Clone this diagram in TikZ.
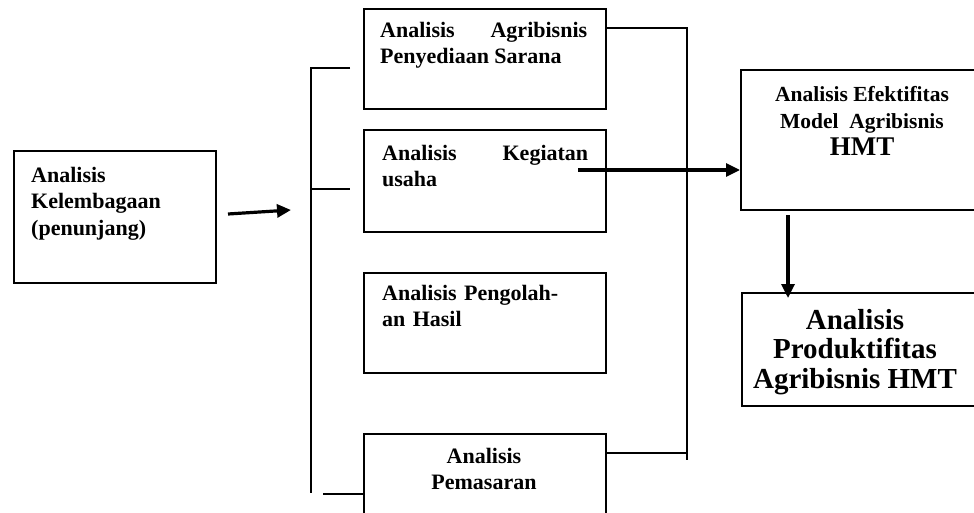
\documentclass[tikz,border=0pt]{standalone}
\usepackage{fontspec}
\setmainfont{Liberation Serif}
\usetikzlibrary{arrows.meta}
\hyphenpenalty=10000
\exhyphenpenalty=10000
\tikzset{
  frame/.style={draw=black, line width=1.6pt, inner sep=0pt, anchor=north west},
  lbl/.style={anchor=north west, inner sep=0pt, font=\fontsize{22}{26.5}\selectfont\bfseries},
  brk/.style={line width=1.6pt},
  bigarrow/.style={line width=3.2pt, -{Triangle[length=14pt,width=13pt]}}
}
\begin{document}
\begin{tikzpicture}[x=1pt,y=-1pt]
\useasboundingbox (0,0) rectangle (974,513);
% boxes
\node[frame, minimum width=202pt, minimum height=132pt] (L) at (13,150) {};
\node[frame, minimum width=242pt, minimum height=100pt] (B1) at (363,8) {};
\node[frame, minimum width=242pt, minimum height=102pt] (B2) at (363,129) {};
\node[frame, minimum width=242pt, minimum height=100pt] (B3) at (363,272) {};
\node[frame, minimum width=242pt, minimum height=100pt] (B4) at (363,433) {};
\node[frame, minimum width=240pt, minimum height=140pt] (E) at (740,69) {};
\node[frame, minimum width=240pt, minimum height=113pt] (P) at (741,292) {};
% texts
\node[lbl, text width=180pt, align=left] (tL) at (31,167) {Analisis\\Kelembagaan\\(penunjang)};
\node[lbl, text width=207pt, align=justify] (t1) at (380,22) {Analisis Agribisnis\linebreak Penyediaan Sarana};
\node[lbl, text width=206pt, align=justify] (t2) at (382,145) {Analisis Kegiatan\linebreak usaha};
\node[lbl, text width=206pt, align=left] (t3) at (382,285) {Analisis Pengolah-\\an Hasil};
\node[lbl, anchor=north, align=center] (t4) at (484,448) {Analisis\\Pemasaran};
\node[lbl, anchor=north, align=center, font=\fontsize{21.5}{27}\selectfont\bfseries] (tE) at (862,86) {Analisis Efektifitas\\Model\ \ Agribisnis\\{\fontsize{27}{28}\selectfont HMT}};
\node[lbl, anchor=north, align=center, font=\fontsize{29}{29.5}\selectfont\bfseries] (tP) at (855,309) {Analisis\\Produktifitas\\Agribisnis HMT};
% left bracket
\coordinate (lt) at (311,68);
\coordinate (lm) at (311,189);
\coordinate (lb) at (311,493);
\coordinate (lbs) at (323,494);
\draw[brk] (350,68) -- (lt) -- (lb);
\draw[brk] (lm) -- (350,189);
\draw[brk] (lbs) -- (B4.west |- lbs);
% right bracket
\coordinate (rt) at (687,28);
\coordinate (rb) at (687,460);
\coordinate (rm) at (687,453);
\draw[brk] (B1.east |- rt) -- (rt) -- (rb);
\draw[brk] (B4.east |- rm) -- (rm);
% arrows
\coordinate (a1s) at (228,214);
\coordinate (a1e) at (291,210);
\draw[bigarrow] (a1s) -- (a1e);
\coordinate (a2s) at (578,170);
\draw[bigarrow] (a2s) -- (E.west |- a2s);
\coordinate (a3s) at (788,215);
\coordinate (a3e) at (788,298);
\draw[bigarrow] (a3s) -- (a3e);
\end{tikzpicture}
\end{document}
